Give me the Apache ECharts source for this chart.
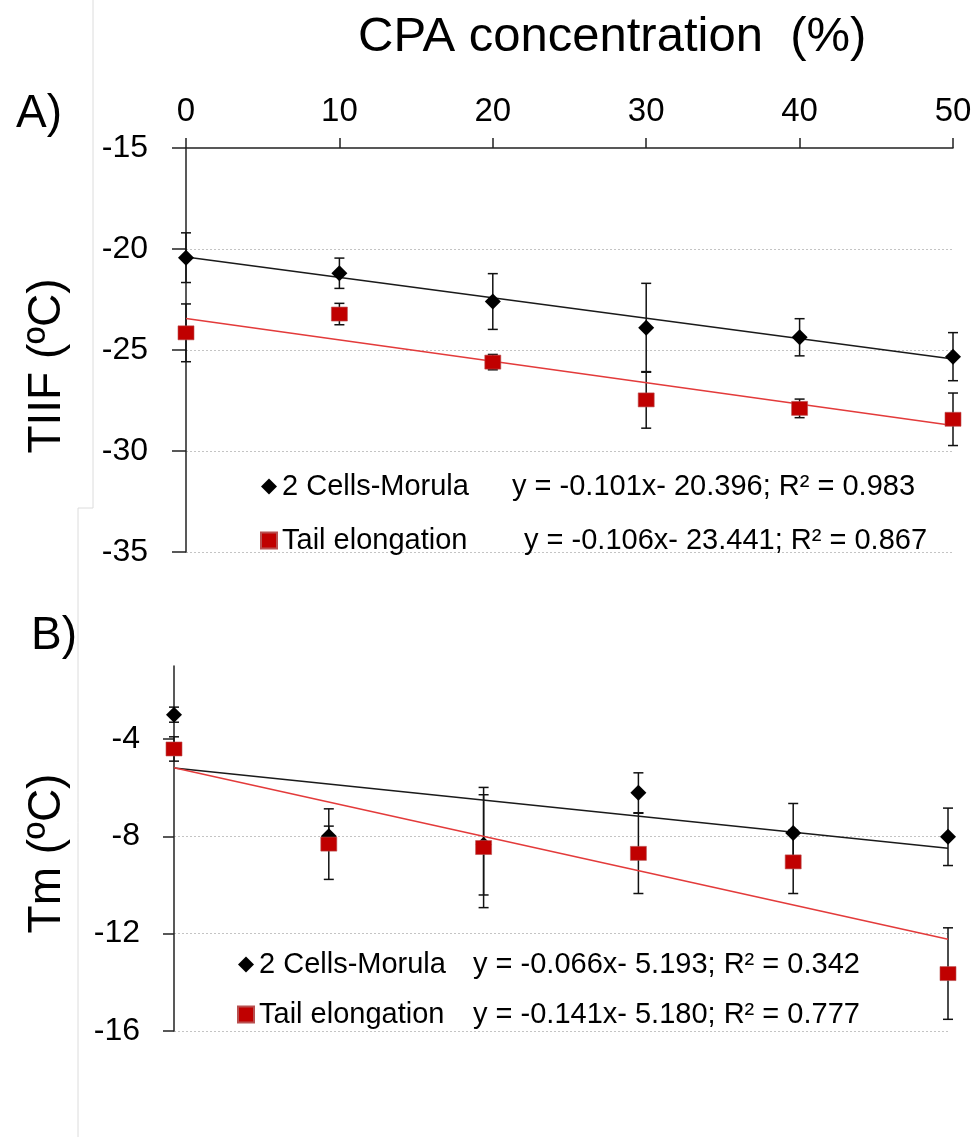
<!DOCTYPE html>
<html>
<head>
<meta charset="utf-8">
<script src="https://cdn.jsdelivr.net/npm/echarts@6/dist/echarts.min.js"></script>
<style>
  html, body { margin: 0; padding: 0; background: #fff; }
  #chart { width: 976px; height: 1137px; }
</style>
</head>
<body>
<div id="chart"></div>
<script>
// CPA concentration (%) shared by both panels
const concentration = [0, 10, 20, 30, 40, 50];
const seriesNames = ['2 Cells-Morula', 'Tail elongation'];

// Panel A: TIIF (ºC), mean and SD
const tiifMorula   = [-20.43, -21.20, -22.60, -23.90, -24.37, -25.33];
const tiifMorulaSd = [1.23, 0.75, 1.38, 2.20, 0.92, 1.19];
const tiifTail     = [-24.15, -23.22, -25.60, -27.47, -27.89, -28.43];
const tiifTailSd   = [1.43, 0.53, 0.38, 1.40, 0.46, 1.30];
const tiifTicks    = [-35, -30, -25, -20, -15];

// Panel B: Tm (ºC), mean and SD
const tmMorula   = [-3.00, -8.00, -8.35, -6.21, -7.86, -8.02];
const tmMorulaSd = [0.31, 0.42, 2.06, 0.82, 1.21, 1.18];
const tmTail     = [-4.41, -8.32, -8.46, -8.70, -9.05, -13.64];
const tmTailSd   = [0.50, 1.45, 2.47, 1.65, 1.30, 1.88];
const tmTicks    = [-16, -12, -8, -4];

// Linear fits (slope, intercept, R²) for [morula, tail]
const fitSlopeA = [-0.101, -0.106];
const fitInterceptA = [-20.396, -23.441];
const fitR2A = [0.983, 0.867];
const fitSlopeB = [-0.066, -0.141];
const fitInterceptB = [-5.193, -5.180];
const fitR2B = [0.342, 0.777];

const FONT = 'Liberation Sans, Arial, Helvetica, sans-serif';
const RED = '#c00000';
const RED_LINE = '#e33b3b';

function eqText(m, b, r2) {
  const sign = b < 0 ? '- ' : '+ ';
  return 'y = ' + m.toFixed(3) + 'x' + sign + Math.abs(b).toFixed(3) + '; R² = ' + r2.toFixed(3);
}
const eqA = [0, 1].map(i => eqText(fitSlopeA[i], fitInterceptA[i], fitR2A[i]));
const eqB = [0, 1].map(i => eqText(fitSlopeB[i], fitInterceptB[i], fitR2B[i]));

function fitLine(m, b) {
  const x0 = concentration[0], x1 = concentration[concentration.length - 1];
  return [[x0, m * x0 + b], [x1, m * x1 + b]];
}

function points(values) {
  return values.map((v, i) => [concentration[i], v]);
}

function errorBars(name, gi, values, sds) {
  return {
    type: 'custom', name: name, xAxisIndex: gi, yAxisIndex: gi, silent: true, z: 3,
    data: values.map((v, i) => [concentration[i], v - sds[i], v + sds[i]]),
    encode: { x: 0, y: [1, 2] },
    renderItem: function (params, api) {
      const x = api.value(0);
      const lo = api.coord([x, api.value(1)]);
      const hi = api.coord([x, api.value(2)]);
      const w = 5;
      const st = { stroke: '#111', lineWidth: 1.5, fill: null };
      return {
        type: 'group',
        children: [
          { type: 'line', shape: { x1: lo[0], y1: lo[1], x2: hi[0], y2: hi[1] }, style: st },
          { type: 'line', shape: { x1: lo[0] - w, y1: lo[1], x2: lo[0] + w, y2: lo[1] }, style: st },
          { type: 'line', shape: { x1: hi[0] - w, y1: hi[1], x2: hi[0] + w, y2: hi[1] }, style: st }
        ]
      };
    }
  };
}

function markerSeries(name, gi, values, isTail) {
  return {
    type: 'scatter', name: name, xAxisIndex: gi, yAxisIndex: gi, z: 5,
    symbol: isTail ? 'rect' : 'diamond',
    symbolSize: isTail ? [16, 14] : [16, 16],
    itemStyle: isTail
      ? { color: RED, opacity: 1, borderColor: '#b85050', borderWidth: 0.6 }
      : { color: '#000', opacity: 1 },
    data: points(values)
  };
}

function trendSeries(name, gi, m, b, color) {
  return {
    type: 'line', name: name, xAxisIndex: gi, yAxisIndex: gi, z: 4,
    showSymbol: false, silent: true,
    lineStyle: { color: color, width: 1.5 },
    data: fitLine(m, b)
  };
}

const splitStyle = { show: true, showMaxLine: false, lineStyle: { color: '#c4c4c4', width: 1, type: [2, 2] } };
const axisLineStyle = { color: '#222', width: 1.5 };

const legendRich = (w1, w2) => ({
  n1: { width: w1, fontSize: 29, fontFamily: FONT, color: '#000', lineHeight: 32 },
  n2: { width: w2, fontSize: 29, fontFamily: FONT, color: '#000', lineHeight: 32 },
  e:  { fontSize: 29, fontFamily: FONT, color: '#000', lineHeight: 32 }
});

const option = {
  backgroundColor: '#fff',
  animation: false,
  title: [
    { text: 'CPA concentration  (%)', left: 353, top: 8,
      textStyle: { fontFamily: FONT, fontSize: 49, fontWeight: 'normal', color: '#000' } },
    { text: 'A)', left: 11, top: 86,
      textStyle: { fontFamily: FONT, fontSize: 46, fontWeight: 'normal', color: '#000' } },
    { text: 'B)', left: 26, top: 608,
      textStyle: { fontFamily: FONT, fontSize: 46, fontWeight: 'normal', color: '#000' } }
  ],
  graphic: [
    { type: 'polyline', silent: true, z: -1,
      shape: { points: [[93, 0], [93, 508], [78, 508], [78, 1137]] },
      style: { stroke: '#dcdcdc', lineWidth: 1, fill: null } }
  ],
  grid: [
    { left: 186, right: 23, top: 148, bottom: 585 },
    { left: 174, right: 28, top: 666, bottom: 106 }
  ],
  xAxis: [
    { type: 'value', gridIndex: 0, position: 'top', min: 0, max: 50, interval: 10,
      axisLine: { show: true, onZero: false, lineStyle: axisLineStyle },
      axisTick: { show: true, length: 10, lineStyle: axisLineStyle },
      axisLabel: { fontFamily: FONT, fontSize: 33, color: '#000', margin: 20 },
      splitLine: { show: false } },
    { type: 'value', gridIndex: 1, min: 0, max: 50, interval: 10, show: false,
      splitLine: { show: false } }
  ],
  yAxis: [
    { type: 'value', gridIndex: 0, min: -35, max: -15, interval: 5,
      name: 'TIIF (ºC)', nameLocation: 'middle', nameRotate: 90, nameGap: 116,
      nameTextStyle: { fontFamily: FONT, fontSize: 46, color: '#000', padding: [0, 32, 0, 0] },
      axisLine: { show: true, onZero: false, lineStyle: axisLineStyle },
      axisTick: { show: true, length: 14, lineStyle: axisLineStyle, customValues: tiifTicks },
      axisLabel: { fontFamily: FONT, fontSize: 32, color: '#000', margin: 38, customValues: tiifTicks },
      splitLine: splitStyle },
    { type: 'value', gridIndex: 1, min: -16, max: -1, interval: 4,
      name: 'Tm (ºC)', nameLocation: 'middle', nameRotate: 90, nameGap: 104,
      nameTextStyle: { fontFamily: FONT, fontSize: 46, color: '#000', padding: [0, 10, 0, 0] },
      axisLine: { show: true, onZero: false, lineStyle: axisLineStyle },
      axisTick: { show: true, length: 11, lineStyle: axisLineStyle, customValues: tmTicks },
      axisLabel: { fontFamily: FONT, fontSize: 32, color: '#000', margin: 34, customValues: tmTicks },
      splitLine: splitStyle }
  ],
  legend: [
    { orient: 'vertical', left: 260, top: 472, padding: 0, itemGap: 25, itemWidth: 16, itemHeight: 16,
      selectedMode: false,
      data: [{ name: seriesNames[0], icon: 'diamond' }, { name: seriesNames[1], icon: 'rect' }],
      formatter: name => name === seriesNames[0]
        ? '{n1|' + name + '}{e|' + eqA[0] + '}'
        : '{n2|' + name + '}{e|' + eqA[1] + '}',
      textStyle: { rich: legendRich(230, 242) } },
    { orient: 'vertical', left: 237, top: 950, padding: 0, itemGap: 21, itemWidth: 16, itemHeight: 16,
      selectedMode: false,
      data: [{ name: seriesNames[0], icon: 'diamond' }, { name: seriesNames[1], icon: 'rect' }],
      formatter: name => name === seriesNames[0]
        ? '{n1|' + name + '}{e|' + eqB[0] + '}'
        : '{n2|' + name + '}{e|' + eqB[1] + '}',
      textStyle: { rich: legendRich(214, 214) } }
  ],
  series: [
    errorBars('morulaErrA', 0, tiifMorula, tiifMorulaSd),
    errorBars('tailErrA', 0, tiifTail, tiifTailSd),
    trendSeries('morulaFitA', 0, fitSlopeA[0], fitInterceptA[0], '#1a1a1a'),
    trendSeries('tailFitA', 0, fitSlopeA[1], fitInterceptA[1], RED_LINE),
    markerSeries(seriesNames[0], 0, tiifMorula, false),
    markerSeries(seriesNames[1], 0, tiifTail, true),

    errorBars('morulaErrB', 1, tmMorula, tmMorulaSd),
    errorBars('tailErrB', 1, tmTail, tmTailSd),
    trendSeries('morulaFitB', 1, fitSlopeB[0], fitInterceptB[0], '#1a1a1a'),
    trendSeries('tailFitB', 1, fitSlopeB[1], fitInterceptB[1], RED_LINE),
    markerSeries(seriesNames[0], 1, tmMorula, false),
    markerSeries(seriesNames[1], 1, tmTail, true)
  ]
};

const chart = echarts.init(document.getElementById('chart'), null, { renderer: 'canvas' });
chart.setOption(option);
</script>
</body>
</html>
